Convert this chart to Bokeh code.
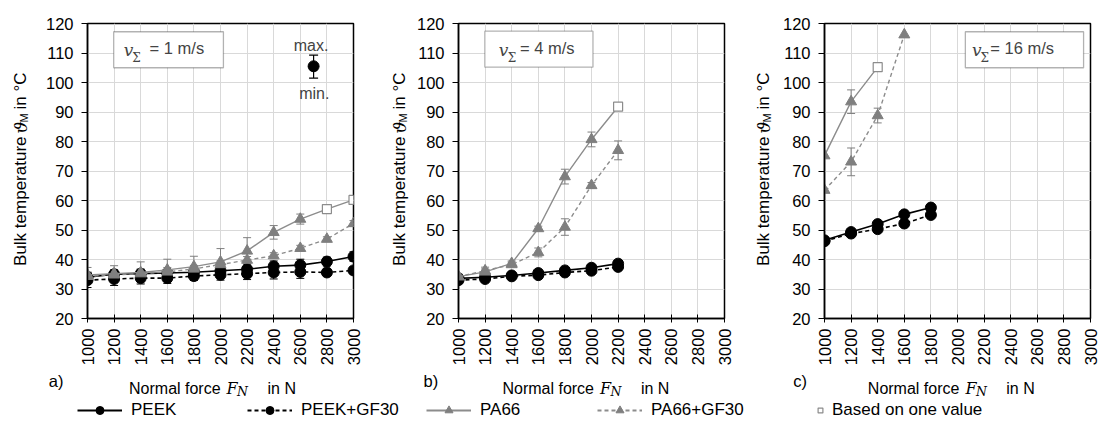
import math
from bokeh.plotting import figure
from bokeh.models import (Range1d, FixedTicker, Whisker, TeeHead, ColumnDataSource,
                          Label, BoxAnnotation, Legend, LegendItem)
from bokeh.layouts import column, row
from bokeh.embed import file_html
from bokeh.resources import INLINE
from bokeh.core.properties import value

# ---------------- data ----------------
force_ticks = [1000, 1200, 1400, 1600, 1800, 2000, 2200, 2400, 2600, 2800, 3000]
temp_ticks = [20, 30, 40, 50, 60, 70, 80, 90, 100, 110, 120]

# a) v = 1 m/s
force_a = [1000, 1200, 1400, 1600, 1800, 2000, 2200, 2400, 2600, 2800, 3000]
peek_a = [34.0, 35.0, 35.2, 35.4, 35.7, 36.2, 36.7, 37.7, 38.1, 39.3, 41.0]
peek_a_err = [1.5, 1.5, 1.5, 1.2, 1.2, 1.5, 1.5, 1.8, 2.0, 1.5, 1.6]
peekgf_a = [33.0, 33.4, 33.7, 33.7, 34.4, 34.8, 35.2, 35.6, 35.8, 35.6, 36.3]
peekgf_a_err = [2.5, 2.2, 2.0, 1.8, 1.5, 1.8, 2.0, 2.2, 2.2, 1.2, 1.2]
pa66_a = [34.8, 35.2, 35.6, 36.5, 37.6, 39.2, 42.9, 49.2, 53.7, 57.1, 60.2]
pa66_a_err = [2.5, 2.7, 3.6, 3.6, 3.5, 4.5, 4.5, 2.3, 1.7, 0.0, 0.0]
pa66_a_one = [False, False, False, False, False, False, False, False, False, True, True]
pa66gf_a = [34.3, 34.8, 35.2, 35.8, 36.8, 38.3, 39.8, 41.3, 43.8, 46.9, 52.2]
pa66gf_a_err = [1.5, 1.5, 1.5, 1.5, 1.2, 1.2, 1.2, 1.0, 1.0, 0.8, 1.0]

# b) v = 4 m/s
force_b = [1000, 1200, 1400, 1600, 1800, 2000, 2200]
peek_b = [33.6, 34.0, 34.6, 35.4, 36.3, 37.2, 38.6]
peek_b_err = [1.0, 0.8, 0.8, 0.8, 0.8, 0.8, 1.0]
peekgf_b = [33.0, 33.4, 34.3, 34.7, 35.6, 36.2, 37.5]
peekgf_b_err = [1.2, 1.0, 1.0, 0.8, 0.8, 0.8, 1.2]
pa66_b = [34.2, 35.8, 38.7, 50.5, 68.1, 80.7, 91.8]
pa66_b_err = [0.8, 1.0, 0.8, 0.8, 2.5, 2.5, 0.0]
pa66_b_one = [False, False, False, False, False, False, True]
pa66gf_b = [34.2, 36.2, 38.3, 42.4, 51.0, 65.1, 77.0]
pa66gf_b_err = [0.8, 1.2, 0.8, 1.5, 2.8, 1.0, 3.2]

# c) v = 16 m/s
force_c_peek = [1000, 1200, 1400, 1600, 1800]
peek_c = [46.5, 49.3, 52.0, 55.3, 57.6]
peek_c_err = [0.6, 0.6, 0.6, 0.6, 0.6]
peekgf_c = [46.2, 48.8, 50.3, 52.2, 55.1]
peekgf_c_err = [0.6, 0.6, 0.6, 0.6, 0.6]
force_c_pa66 = [1000, 1200, 1400]
pa66_c = [75.2, 93.5, 105.2]
pa66_c_err = [0.0, 4.0, 0.0]
pa66_c_one = [False, False, True]
force_c_pa66gf = [1000, 1200, 1400, 1600]
pa66gf_c = [63.5, 73.1, 88.8, 116.2]
pa66gf_c_err = [0.5, 4.7, 2.5, 0.0]

# key for the min/max error bar (panel a)
key_force = [2700]
key_mean = [105.5]
key_min = [101.5]
key_max = [109.3]

speeds = ["1", "4", "16"]
panel_letters = ["a)", "b)", "c)"]
series_names = ["PEEK", "PEEK+GF30", "PA66", "PA66+GF30"]
one_value_label = "Based on one value"

# ---------------- styling ----------------
SANS = "Liberation Sans"
MATH = "DejaVu Serif"
BLACK = "#000000"
GRAY_LINE = "#8c8c8c"
GRAY_MARK = "#7f7f7f"
FH = 295  # frame height in px


def draw_series(p, x, y, err, color, mcolor, dash, marker, msize, one=None):
    p.line(x, y, line_color=color, line_width=1.6 if color == BLACK else 1.4,
           line_dash=dash)
    wx = [xi for xi, e in zip(x, err) if e > 0]
    wu = [yi + e for yi, e in zip(y, err) if e > 0]
    wl = [yi - e for yi, e in zip(y, err) if e > 0]
    src = ColumnDataSource(dict(x=wx, u=wu, l=wl))
    p.add_layout(Whisker(source=src, base="x", upper="u", lower="l",
                         line_color=mcolor, line_width=1,
                         upper_head=TeeHead(size=8, line_color=mcolor, line_width=1),
                         lower_head=TeeHead(size=8, line_color=mcolor, line_width=1)))
    if one is None:
        one = [False] * len(x)
    mx = [xi for xi, o in zip(x, one) if not o]
    my = [yi for yi, o in zip(y, one) if not o]
    p.scatter(mx, my, marker=marker, size=msize, fill_color=mcolor, line_color=mcolor)
    sx = [xi for xi, o in zip(x, one) if o]
    sy = [yi for yi, o in zip(y, one) if o]
    if sx:
        p.scatter(sx, sy, marker="square", size=9, fill_color="white",
                  line_color=GRAY_LINE, line_width=1.2)


def out_text(p, fw, dx, dy, text, font=SANS, size="15px", style="normal",
             angle=0.0, align="left", baseline="alphabetic"):
    """Text outside the frame; dx from frame left, dy up from frame bottom (px)."""
    x = 1000 + dx * 2000.0 / fw
    y = 20 + dy * 100.0 / FH
    p.text(x=[x], y=[y], text=[text], text_font=value(font),
           text_font_size=value(size), text_font_style=value(style),
           angle=angle, text_align=value(align), text_baseline=value(baseline),
           text_color="black", level="overlay")


def make_panel(idx, width, left, right, fw, ylab_dx, xlab_dx, letter_dx, box, vpos):
    p = figure(width=width, height=398, x_range=Range1d(1000, 3000),
               y_range=Range1d(20, 120), toolbar_location=None,
               output_backend="svg", min_border_left=left,
               min_border_right=right, min_border_top=23, min_border_bottom=80)
    p.outline_line_color = "black"
    p.outline_line_width = 1.5
    p.xaxis.ticker = FixedTicker(ticks=force_ticks)
    p.yaxis.ticker = FixedTicker(ticks=temp_ticks)
    p.grid.grid_line_color = "#d9d9d9"
    p.grid.grid_line_width = 1
    p.axis.axis_line_width = 1.5
    p.axis.axis_line_color = "black"
    p.axis.major_tick_line_color = "black"
    p.axis.major_tick_line_width = 1
    p.axis.minor_tick_line_color = None
    p.axis.major_label_text_font = SANS
    p.axis.major_label_text_font_size = "16.5px"
    p.axis.major_label_text_color = "black"
    p.xaxis.major_tick_in = 4
    p.xaxis.major_tick_out = 4
    p.xaxis.major_label_standoff = 6
    p.xaxis.major_label_orientation = math.pi / 2
    p.yaxis.major_tick_in = 0
    p.yaxis.major_tick_out = 6
    p.yaxis.major_label_standoff = 8

    # y axis label (rotated, pieces for the subscript)
    a90 = math.pi / 2
    out_text(p, fw, ylab_dx, 182, "Bulk temperature", size="17px", angle=a90, align="right")
    out_text(p, fw, ylab_dx, 185, "\u03d1", font=MATH, size="17px", style="italic", angle=a90)
    out_text(p, fw, ylab_dx + 3, 196, "M", size="11px", angle=a90)
    out_text(p, fw, ylab_dx, 209, "in \u00b0C", size="17px", angle=a90)
    # x axis label
    out_text(p, fw, xlab_dx + 86.5, -70, "Normal force", size="16px", align="right")
    out_text(p, fw, xlab_dx + 92.5, -70, "F", font=MATH, size="16px", style="italic")
    out_text(p, fw, xlab_dx + 103, -73, "N", font=MATH, size="12.5px", style="italic")
    out_text(p, fw, xlab_dx + 133.4, -70, "in N", size="16px")
    # panel letter
    out_text(p, fw, letter_dx, -62, panel_letters[idx], size="16.5px")

    # speed box
    p.add_layout(BoxAnnotation(left=box[0], right=box[1], bottom=box[2], top=box[3],
                               fill_color="white", fill_alpha=1.0,
                               line_color="black", line_width=1.3))
    p.add_layout(Label(x=vpos[0], y=107.7, text="v", text_font=MATH,
                       text_font_size="17px", text_font_style="italic"))
    p.add_layout(Label(x=vpos[1], y=106.0, text="\u03a3", text_font=MATH,
                       text_font_size="12px"))
    p.add_layout(Label(x=vpos[2], y=108.5, text="= %s m/s" % speeds[idx],
                       text_font=SANS, text_font_size="16.5px"))
    return p


pa = make_panel(0, 378, 87, 25, 266, -67, 46.6, -38.7,
                (1197, 2022, 105.0, 117.2), (1273, 1336, 1467))
pb = make_panel(1, 367, 80, 21, 266, -59, 49.0, -35.0,
                (1198, 2011, 105.2, 117.4), (1303, 1371, 1462))
pc = make_panel(2, 353, 79, 8, 266, -61, 48.4, -31.3,
                (2059, 2948, 105.0, 117.2), (2109, 2172, 2247))

# series: PEEK, PEEK+GF30, PA66, PA66+GF30
draw_series(pa, force_a, peek_a, peek_a_err, BLACK, BLACK, "solid", "circle", 11)
draw_series(pa, force_a, peekgf_a, peekgf_a_err, BLACK, BLACK, "4 3", "circle", 11)
draw_series(pa, force_a, pa66_a, pa66_a_err, GRAY_LINE, GRAY_MARK, "solid", "triangle", 11, pa66_a_one)
draw_series(pa, force_a, pa66gf_a, pa66gf_a_err, GRAY_LINE, GRAY_MARK, "4 3", "triangle", 11)

draw_series(pb, force_b, peek_b, peek_b_err, BLACK, BLACK, "solid", "circle", 11)
draw_series(pb, force_b, peekgf_b, peekgf_b_err, BLACK, BLACK, "4 3", "circle", 11)
draw_series(pb, force_b, pa66_b, pa66_b_err, GRAY_LINE, GRAY_MARK, "solid", "triangle", 11, pa66_b_one)
draw_series(pb, force_b, pa66gf_b, pa66gf_b_err, GRAY_LINE, GRAY_MARK, "4 3", "triangle", 11)

draw_series(pc, force_c_peek, peek_c, peek_c_err, BLACK, BLACK, "solid", "circle", 11)
draw_series(pc, force_c_peek, peekgf_c, peekgf_c_err, BLACK, BLACK, "4 3", "circle", 11)
draw_series(pc, force_c_pa66, pa66_c, pa66_c_err, GRAY_LINE, GRAY_MARK, "solid", "triangle", 11, pa66_c_one)
draw_series(pc, force_c_pa66gf, pa66gf_c, pa66gf_c_err, GRAY_LINE, GRAY_MARK, "4 3", "triangle", 11)

# min / max key in panel a
ksrc = ColumnDataSource(dict(x=key_force, u=key_max, l=key_min))
pa.add_layout(Whisker(source=ksrc, base="x", upper="u", lower="l", line_color="black",
                      line_width=1.2,
                      upper_head=TeeHead(size=9, line_color="black", line_width=1.2),
                      lower_head=TeeHead(size=9, line_color="black", line_width=1.2)))
pa.scatter(key_force, key_mean, marker="circle", size=11, color="black")
pa.add_layout(Label(x=2681, y=112.5, text="max.", text_font=SANS, text_font_size="16px",
                    text_align="center", text_baseline="middle"))
pa.add_layout(Label(x=2705, y=96.4, text="min.", text_font=SANS, text_font_size="16px",
                    text_align="center", text_baseline="middle"))

# ---------------- legend strip ----------------
lg = figure(width=1098, height=24, x_range=Range1d(0, 1), y_range=Range1d(0, 1),
            toolbar_location=None, output_backend="svg", min_border=0,
            x_axis_location=None, y_axis_location=None)
lg.outline_line_color = None
lg.grid.visible = False

hx = [-5, -4]   # hidden points (outside the visible range), only for legend glyphs
hy = [-5, -4]
l1 = lg.line(hx, hy, line_color=BLACK, line_width=2)
s1 = lg.scatter(hx, hy, marker="circle", size=10, color=BLACK)
l2 = lg.line(hx, hy, line_color=BLACK, line_width=2, line_dash="4 3")
s2 = lg.scatter(hx, hy, marker="circle", size=10, color=BLACK)
l3 = lg.line(hx, hy, line_color=GRAY_LINE, line_width=2)
s3 = lg.scatter(hx, hy, marker="triangle", size=10, color=GRAY_MARK)
l4 = lg.line(hx, hy, line_color=GRAY_LINE, line_width=2, line_dash="4 3")
s4 = lg.scatter(hx, hy, marker="triangle", size=10, color=GRAY_MARK)
s5 = lg.scatter(hx, hy, marker="square", size=9, fill_color="white",
                line_color=GRAY_LINE, line_width=1.2)

legend_specs = [
    (series_names[0], [l1, s1], 77, 45, 9),
    (series_names[1], [l2, s2], 247, 45, 9),
    (series_names[2], [l3, s3], 426, 45, 9),
    (series_names[3], [l4, s4], 597, 45, 9),
    (one_value_label, [s5], 814, 12, 6),
]
for label, rends, lx, gw, stand in legend_specs:
    leg = Legend(items=[LegendItem(label=label, renderers=rends)], location=(lx, 2),
                 orientation="horizontal", glyph_width=gw, glyph_height=20,
                 label_height=20, label_standoff=stand, padding=0, margin=0,
                 spacing=0, border_line_color=None, background_fill_alpha=0,
                 label_text_font=SANS, label_text_font_size="17px",
                 label_text_color="black")
    lg.add_layout(leg)

layout = column(row(pa, pb, pc), lg)
open("out.html", "w").write(file_html(layout, INLINE))
